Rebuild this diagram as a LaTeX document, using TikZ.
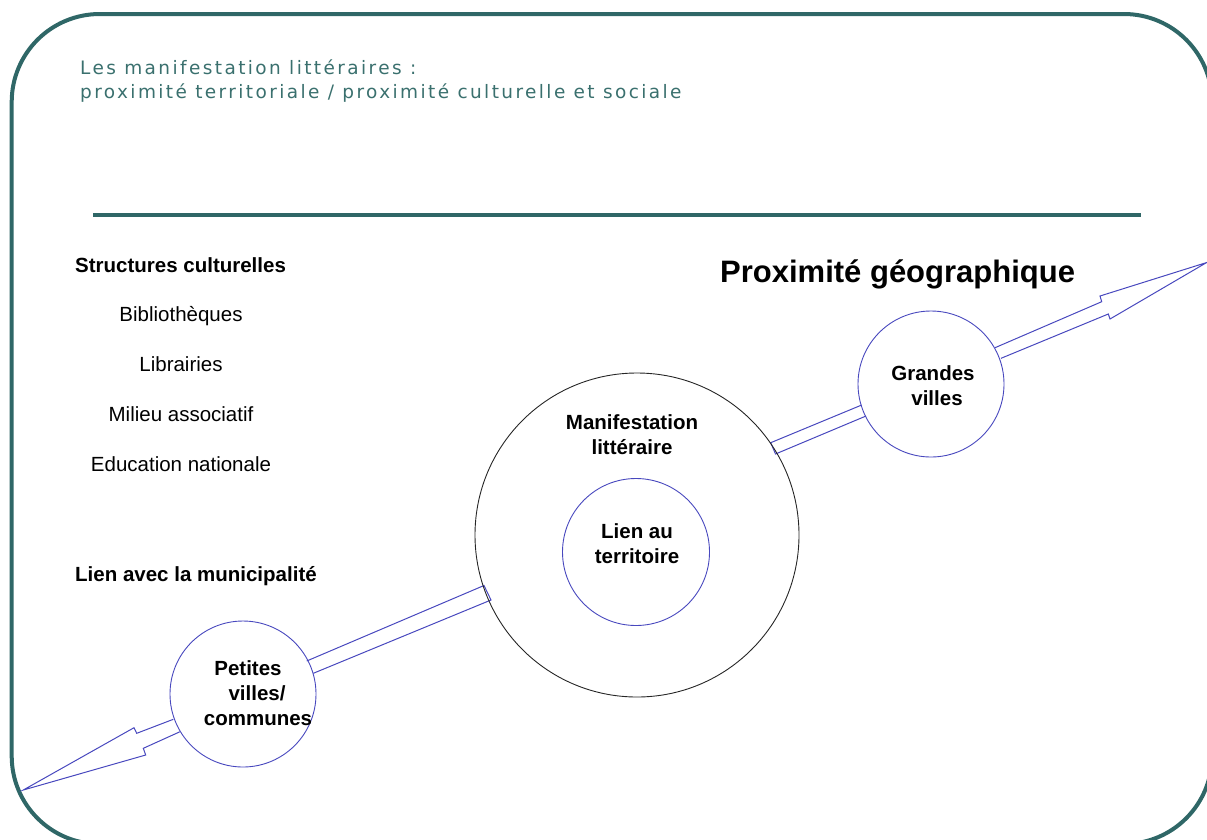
\documentclass[tikz,border=0pt]{standalone}
\usepackage{fontspec}
\setmainfont{Liberation Sans}
\newfontfamily\titlefont[LetterSpace=13]{DejaVu Sans}
\definecolor{frameteal}{RGB}{47,103,103}
\definecolor{titleteal}{RGB}{58,112,110}
\definecolor{arrowblue}{RGB}{72,72,190}
\tikzset{
  framestyle/.style={draw=frameteal, line width=4pt},
  rulestyle/.style={draw=frameteal, line width=4pt},
  titletext/.style={anchor=base west, inner sep=0pt, text=titleteal, font=\titlefont\fontsize{18.5}{22}\selectfont},
  bodytext/.style={inner sep=0pt, font=\fontsize{20.5}{25}\selectfont},
  boldtext/.style={bodytext, font=\fontsize{20.5}{25}\selectfont\bfseries},
  bluecirc/.style={circle, draw=arrowblue, line width=0.9pt, inner sep=0pt},
  blackcirc/.style={circle, draw=black!85, line width=0.9pt, inner sep=0pt},
  arrowline/.style={draw=arrowblue, line width=1pt, line join=miter},
}
\begin{document}
\begin{tikzpicture}[x=1pt, y=-1pt]
\useasboundingbox (0,0) rectangle (1207,839);
\begin{scope}
  \clip (0,0) rectangle (1207,839);
  \draw[framestyle, rounded corners=88pt] (11.7,14) rectangle (1212,844);
\end{scope}

% title
\node[titletext] (t1) at (80,74) {Les manifestation littéraires :};
\node[titletext] (t2) at (80,98) {proximité territoriale / proximité culturelle et sociale};

% rule
\draw[rulestyle] (93,215) -- (1141,215);

% left column
\node[boldtext, anchor=base west] (sc) at (75,272) {Structures culturelles};
\node[bodytext, anchor=base] (bib) at (181,321) {Bibliothèques};
\node[bodytext, anchor=base] (lib) at (181,371) {Librairies};
\node[bodytext, anchor=base] (mil) at (181,421) {Milieu associatif};
\node[bodytext, anchor=base] (edu) at (181,471) {Education nationale};
\node[boldtext, anchor=base west] (mun) at (75,581) {Lien avec la municipalité};

% heading right
\node[inner sep=0pt, anchor=base west, font=\fontsize{31}{36}\selectfont\bfseries] (prox) at (720,282) {Proximité géographique};

% arrow pieces
\draw[arrowline] (173.3,719.3) -- (136.7,733.3) -- (134,727.7) -- (23.3,790) -- (145.7,755) -- (143.3,748.3) -- (180,731.7);
\draw[arrowline] (306.7,661) -- (484,585.5) -- (491,600) -- (313.3,673.3);
\draw[arrowline] (861.7,405) -- (770.7,442.7) -- (775.5,454) -- (866,416);
\draw[arrowline] (995,347.7) -- (1101.7,301.7) -- (1100,296) -- (1206.7,262.5) -- (1110,319) -- (1108.3,314) -- (1001,358.3);

% circles
\node[blackcirc, minimum size=324pt] (manif) at (637,535) {};
\node[bluecirc, minimum size=147pt] (lien) at (636,552) {};
\node[bluecirc, minimum size=146pt] (grandes) at (931,384) {};
\node[bluecirc, minimum size=146pt] (petites) at (243,694) {};

% circle labels
\node[boldtext, align=center] (manift) at (632,435) {Manifestation\\littéraire};
\node[boldtext, align=center] (lient) at (637,544) {Lien au\\territoire};
\node[boldtext, align=center] (grandest) at (933,386) {Grandes\\\hspace*{8pt}villes};
\node[boldtext, align=center] (petitest) at (258,693) {\hspace*{-20pt}Petites\\\hspace*{-2pt}villes/\\communes};
\end{tikzpicture}
\end{document}
